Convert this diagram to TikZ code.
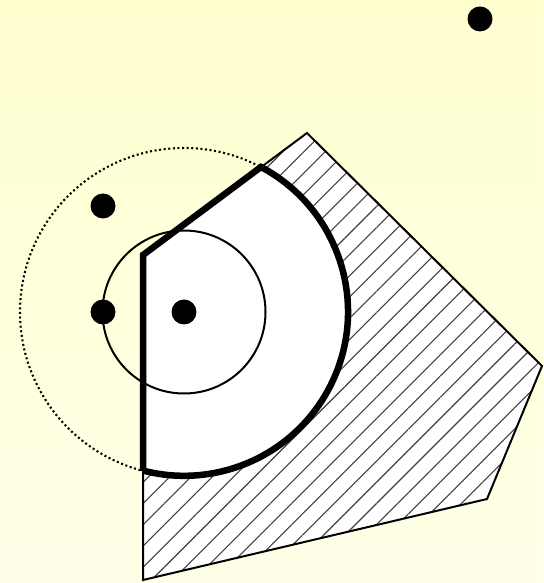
\documentclass[tikz,border=0pt]{standalone}
\usetikzlibrary{patterns.meta}
\definecolor{bgtop}{RGB}{255,255,208}
\definecolor{bgbot}{RGB}{255,255,232}
\tikzset{
  region/.style={draw=black, line width=2pt, line join=miter},
  hatch/.style={pattern={Lines[angle=45,distance=15pt,line width=1.1pt]}, pattern color=black!75},
  dotted ring/.style={draw=black, line width=2.1pt, dash pattern=on 2pt off 2.6pt},
  thin ring/.style={draw=black, line width=2pt},
  thick edge/.style={draw=black, line width=6.5pt, line join=miter},
  point/.style={circle, fill=black, inner sep=0pt, minimum size=25pt}
}
\begin{document}
\begin{tikzpicture}[x=1pt,y=1pt]
  \useasboundingbox (0,0) rectangle (543,583);
  \shade[top color=bgtop, bottom color=bgbot] (0,0) rectangle (543,583);
  % hatched polygon
  \coordinate (p1) at (143,328);
  \coordinate (p2) at (307,450);
  \coordinate (p3) at (542,217);
  \coordinate (p4) at (487,84);
  \coordinate (p5) at (143,3);
  \fill[white] (p1) -- (p2) -- (p3) -- (p4) -- (p5) -- cycle;
  \fill[hatch] (p1) -- (p2) -- (p3) -- (p4) -- (p5) -- cycle;
  \draw[region] (p1) -- (p2) -- (p3) -- (p4) -- (p5) -- cycle;
  % dotted circle
  \coordinate (c) at (184,271);
  \draw[dotted ring] (c) circle[radius=164];
  % white sector
  \coordinate (s1) at (143,328);
  \coordinate (s2) at (261,416);
  \fill[white] (s1) -- (s2) arc[start angle=62, end angle=-104.5, radius=164] -- cycle;
  % inner circle
  \draw[thin ring] (c) circle[radius=81.5];
  % thick outline
  \draw[thick edge] (143,112) -- (s1) -- (s2) arc[start angle=62, end angle=-104.5, radius=164];
  % points
  \node[point] (a) at (480,564) {};
  \node[point] (b) at (103,377) {};
  \node[point] (d) at (103,271) {};
  \node[point] (e) at (c) {};
\end{tikzpicture}
\end{document}
